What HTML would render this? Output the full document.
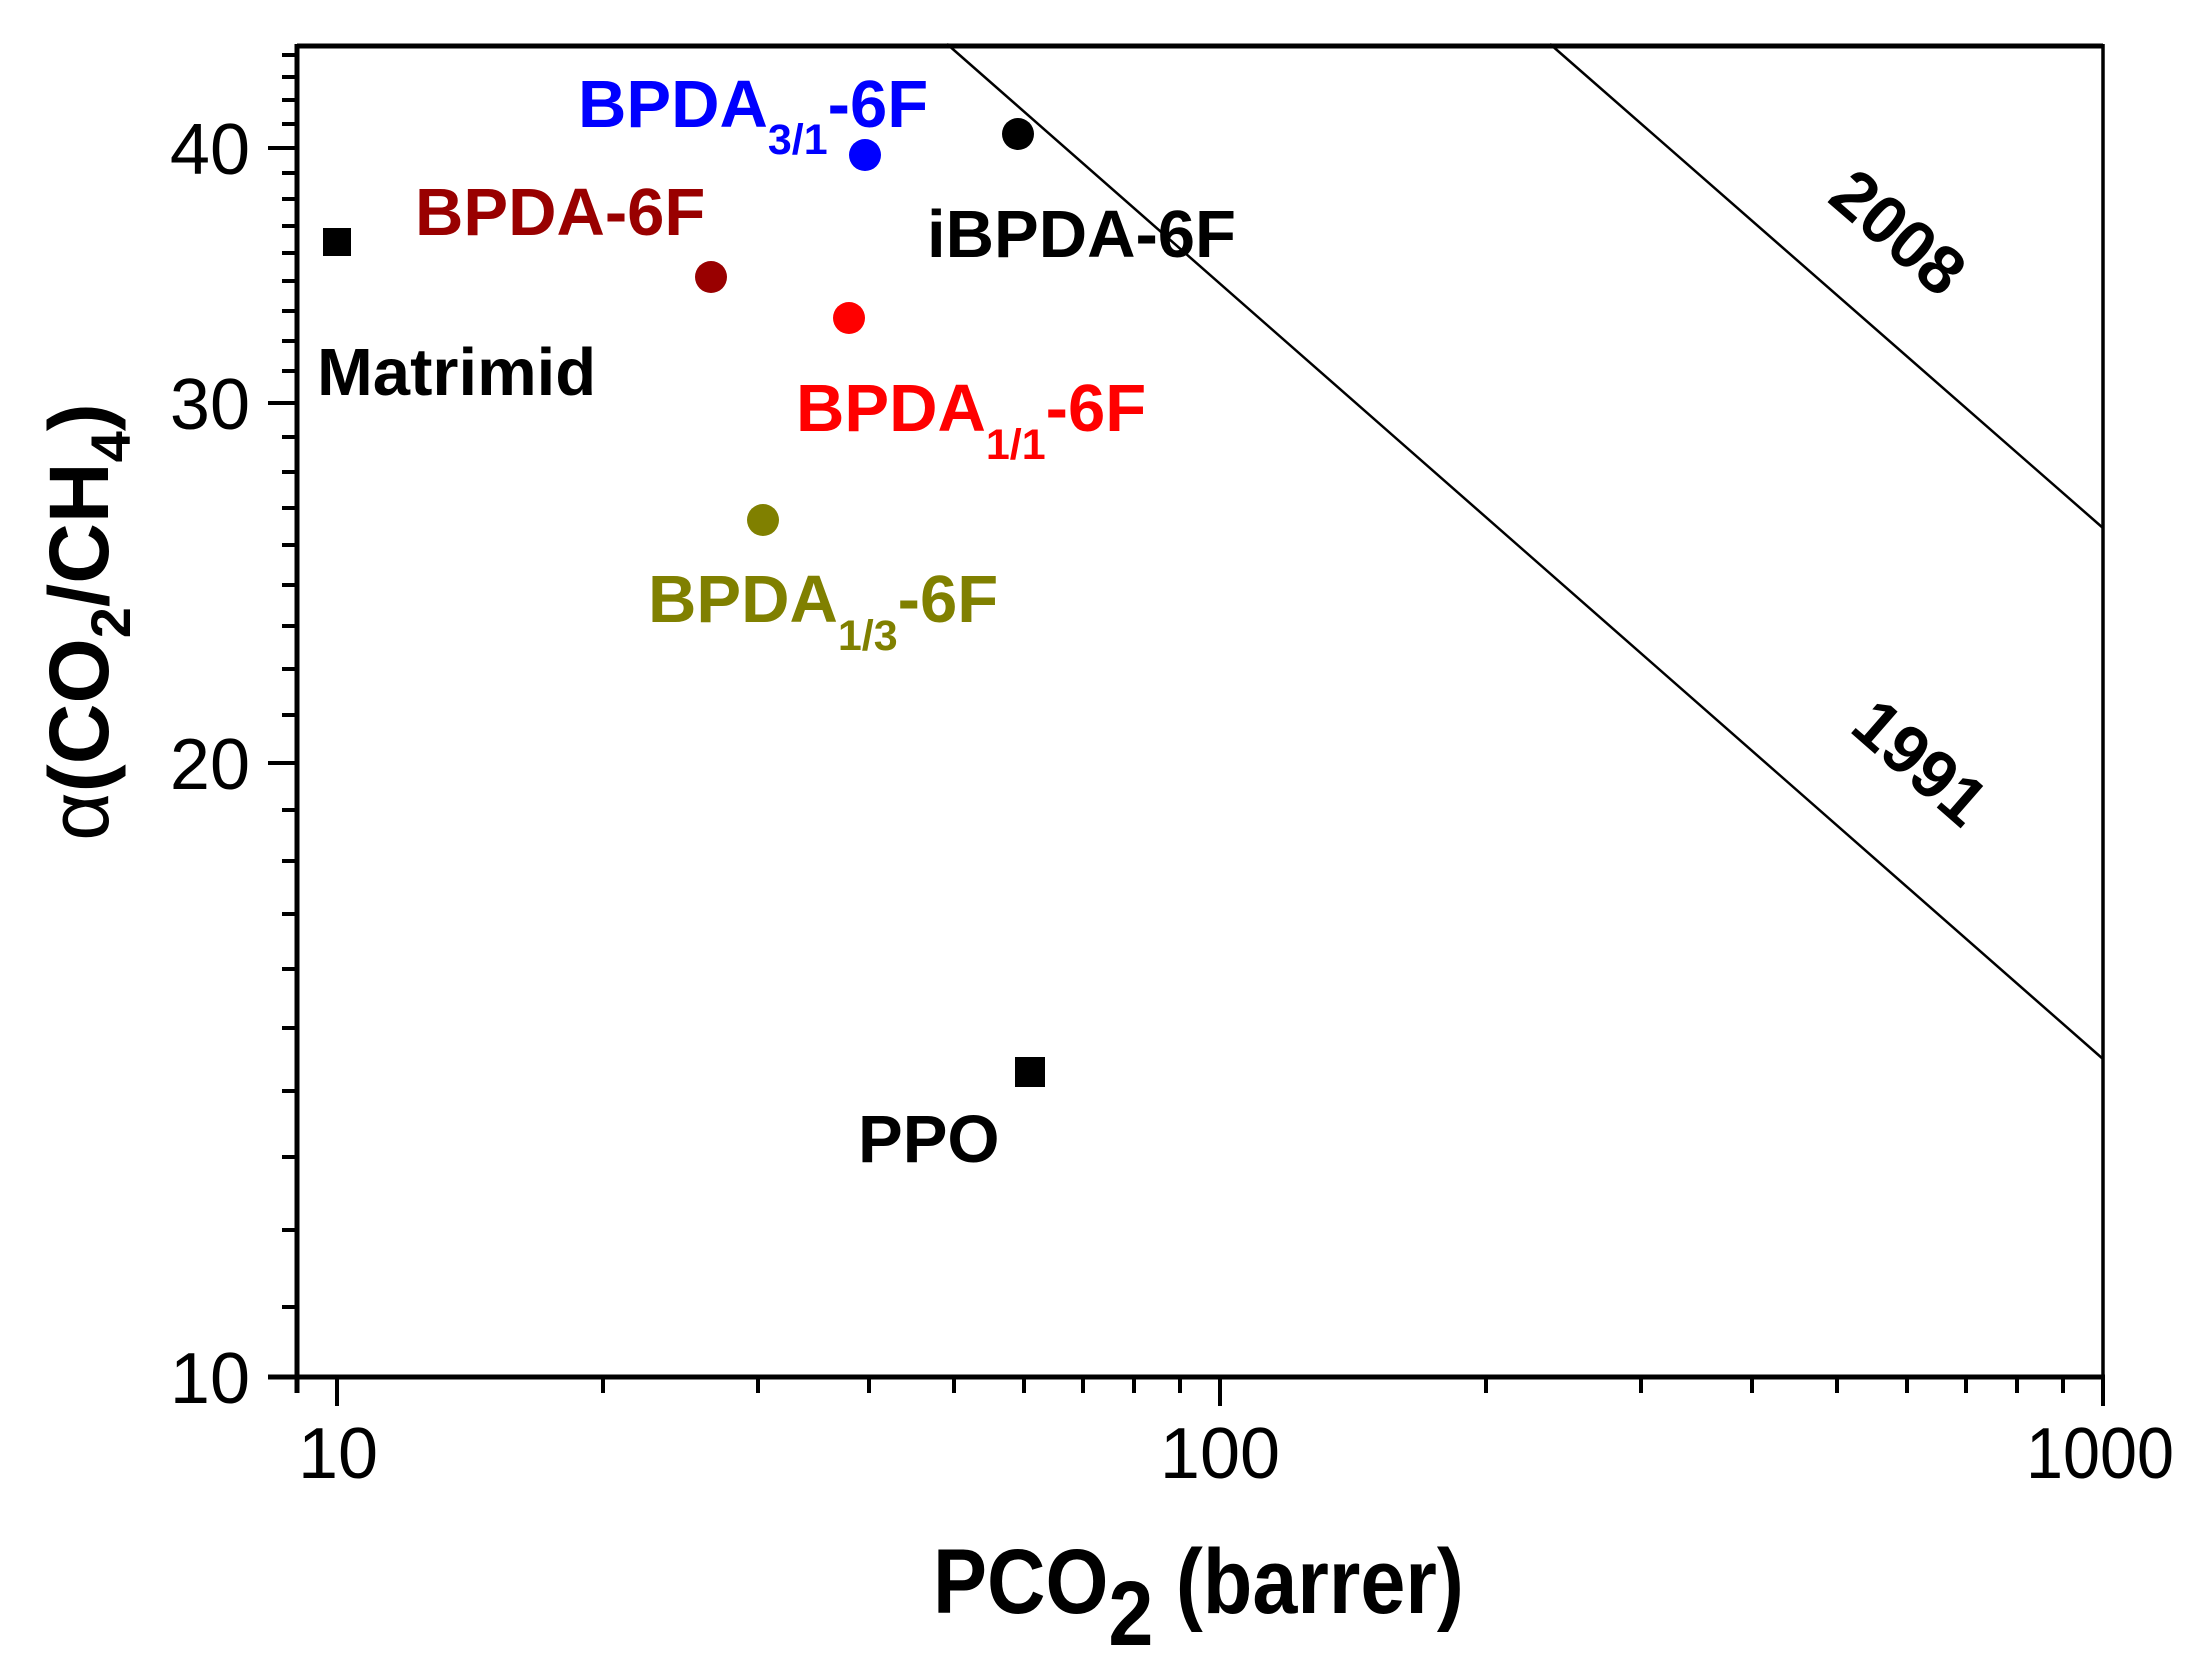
<!DOCTYPE html>
<html><head><meta charset="utf-8"><style>
html,body{margin:0;padding:0;background:#fff}
svg{display:block}
text{font-family:"Liberation Sans",Arial,sans-serif}
.b{font-weight:bold}
</style></head><body>
<svg width="2208" height="1667" viewBox="0 0 2208 1667" xmlns="http://www.w3.org/2000/svg">
<rect width="2208" height="1667" fill="#fff"/>
<!-- trade-off lines -->
<line x1="947" y1="44" x2="2103" y2="1059" stroke="#000" stroke-width="2.5"/>
<line x1="1550" y1="44" x2="2103" y2="528" stroke="#000" stroke-width="2.5"/>
<!-- frame -->
<line x1="297" y1="46" x2="2103" y2="46" stroke="#000" stroke-width="5"/>
<line x1="2103" y1="44" x2="2103" y2="1393" stroke="#000" stroke-width="3.5"/>
<line x1="297" y1="44" x2="297" y2="1393" stroke="#000" stroke-width="5"/>
<line x1="268" y1="1377" x2="2105" y2="1377" stroke="#000" stroke-width="5"/>
<g stroke="#000" stroke-width="4">
<!-- x ticks -->
<line x1="337" y1="1377" x2="337" y2="1406"/>
<line x1="1220" y1="1377" x2="1220" y2="1406"/>
<line x1="2103" y1="1377" x2="2103" y2="1406"/>
<line x1="603" y1="1377" x2="603" y2="1393"/><line x1="758" y1="1377" x2="758" y2="1393"/><line x1="869" y1="1377" x2="869" y2="1393"/><line x1="954" y1="1377" x2="954" y2="1393"/><line x1="1024" y1="1377" x2="1024" y2="1393"/><line x1="1083" y1="1377" x2="1083" y2="1393"/><line x1="1134" y1="1377" x2="1134" y2="1393"/><line x1="1180" y1="1377" x2="1180" y2="1393"/>
<line x1="1486" y1="1377" x2="1486" y2="1393"/><line x1="1641" y1="1377" x2="1641" y2="1393"/><line x1="1752" y1="1377" x2="1752" y2="1393"/><line x1="1837" y1="1377" x2="1837" y2="1393"/><line x1="1907" y1="1377" x2="1907" y2="1393"/><line x1="1966" y1="1377" x2="1966" y2="1393"/><line x1="2017" y1="1377" x2="2017" y2="1393"/><line x1="2063" y1="1377" x2="2063" y2="1393"/>
<!-- y major -->
<line x1="268" y1="148" x2="297" y2="148"/><line x1="268" y1="403" x2="297" y2="403"/><line x1="268" y1="763" x2="297" y2="763"/><line x1="268" y1="1377" x2="297" y2="1377"/>
<!-- y minor -->
<line x1="282" y1="55" x2="297" y2="55"/><line x1="282" y1="77" x2="297" y2="77"/><line x1="282" y1="100" x2="297" y2="100"/><line x1="282" y1="124" x2="297" y2="124"/>
<line x1="282" y1="173" x2="297" y2="173"/><line x1="282" y1="199" x2="297" y2="199"/><line x1="282" y1="226" x2="297" y2="226"/><line x1="282" y1="253" x2="297" y2="253"/><line x1="282" y1="281" x2="297" y2="281"/><line x1="282" y1="311" x2="297" y2="311"/><line x1="282" y1="341" x2="297" y2="341"/><line x1="282" y1="371" x2="297" y2="371"/>
<line x1="282" y1="437" x2="297" y2="437"/><line x1="282" y1="472" x2="297" y2="472"/><line x1="282" y1="508" x2="297" y2="508"/><line x1="282" y1="545" x2="297" y2="545"/><line x1="282" y1="585" x2="297" y2="585"/><line x1="282" y1="626" x2="297" y2="626"/><line x1="282" y1="669" x2="297" y2="669"/><line x1="282" y1="715" x2="297" y2="715"/>
<line x1="282" y1="810" x2="297" y2="810"/><line x1="282" y1="861" x2="297" y2="861"/><line x1="282" y1="914" x2="297" y2="914"/><line x1="282" y1="969" x2="297" y2="969"/><line x1="282" y1="1028" x2="297" y2="1028"/><line x1="282" y1="1091" x2="297" y2="1091"/><line x1="282" y1="1157" x2="297" y2="1157"/><line x1="282" y1="1230" x2="297" y2="1230"/><line x1="282" y1="1307" x2="297" y2="1307"/>
</g>
<!-- tick labels -->
<g font-size="72" text-anchor="middle">
<text x="338" y="1478">10</text>
<text x="1220" y="1478">100</text>
<text x="2100" y="1478" textLength="148" lengthAdjust="spacingAndGlyphs">1000</text>
</g>
<g font-size="72" text-anchor="end">
<text x="250" y="174">40</text>
<text x="250" y="429">30</text>
<text x="250" y="789">20</text>
<text x="250" y="1403">10</text>
</g>
<!-- axis titles -->
<g transform="translate(933,1613) scale(0.88,1)">
<text class="b" x="0" y="0" font-size="92">PCO<tspan dy="32">2</tspan><tspan dy="-32"> (barrer)</tspan></text>
</g>
<text class="b" transform="translate(108,622) rotate(-90)" text-anchor="middle" font-size="84"><tspan font-weight="normal">α</tspan>(CO<tspan font-size="56" dy="22">2</tspan><tspan dy="-22">/CH</tspan><tspan font-size="56" dy="22">4</tspan><tspan dy="-22">)</tspan></text>
<!-- data -->
<rect x="323" y="228" width="28" height="28" fill="#000"/>
<rect x="1015" y="1057" width="30" height="30" fill="#000"/>
<circle cx="711" cy="277" r="16" fill="#990000"/>
<circle cx="849" cy="318" r="16" fill="#ff0000"/>
<circle cx="865" cy="155" r="16" fill="#0000ff"/>
<circle cx="1018" cy="134" r="16" fill="#000"/>
<circle cx="763" cy="520" r="16" fill="#808000"/>
<!-- labels -->
<g class="b" font-size="67">
<text x="578" y="127" fill="#0000ff">BPDA<tspan font-size="43" dy="27">3/1</tspan><tspan dy="-27">-6F</tspan></text>
<text x="415" y="235" fill="#990000">BPDA-6F</text>
<text x="927" y="257" fill="#000">iBPDA-6F</text>
<text x="317" y="395" fill="#000">Matrimid</text>
<text x="796" y="431" fill="#ff0000">BPDA<tspan font-size="43" dy="28">1/1</tspan><tspan dy="-28">-6F</tspan></text>
<text x="648" y="622" fill="#808000">BPDA<tspan font-size="43" dy="28">1/3</tspan><tspan dy="-28">-6F</tspan></text>
<text x="858" y="1162" fill="#000">PPO</text>
</g>
<text class="b" font-size="68" text-anchor="middle" transform="translate(1883,250) rotate(40.8)">2008</text>
<text class="b" font-size="68" text-anchor="middle" transform="translate(1905,780) rotate(41)">1991</text>
</svg>
</body></html>
